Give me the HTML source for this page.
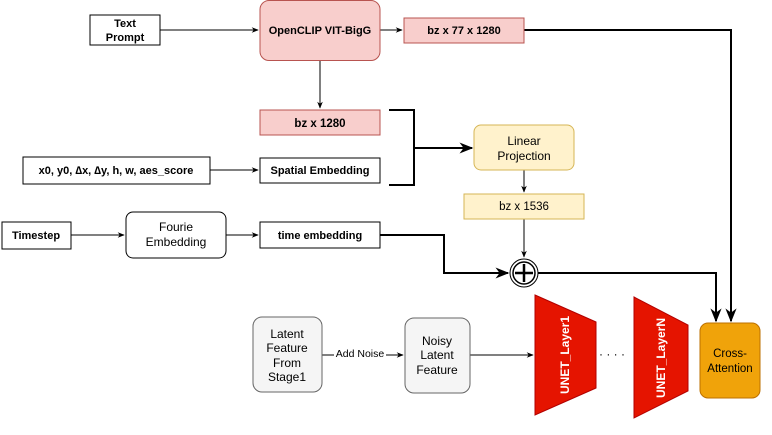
<!DOCTYPE html>
<html><head><meta charset="utf-8"><style>
body{margin:0;background:#fff}
svg text{font-family:"Liberation Sans",Arial,sans-serif;fill:#000}
.b{font-weight:bold}
</style></head><body>
<svg width="772" height="430" viewBox="0 0 772 430" xmlns="http://www.w3.org/2000/svg">
<defs>
<marker id="a" viewBox="0 0 10 10" refX="9" refY="5" markerWidth="7" markerHeight="7" orient="auto"><path d="M0,1 L10,5 L0,9 L3,5z" fill="#000"/></marker>
</defs>
<g stroke="#000" fill="none">
<line x1="160" y1="30" x2="258" y2="30" marker-end="url(#a)"/>
<line x1="380" y1="30" x2="402" y2="30" marker-end="url(#a)"/>
<line x1="320" y1="60" x2="320" y2="108" marker-end="url(#a)"/>
<line x1="210" y1="170" x2="258" y2="170" marker-end="url(#a)"/>
<path d="M389,110 H414 V185 H389" stroke-width="2"/>
<line x1="414" y1="148" x2="472" y2="148" stroke-width="2" marker-end="url(#a)"/>
<line x1="524" y1="170" x2="524" y2="192" marker-end="url(#a)"/>
<line x1="524" y1="219" x2="524" y2="257" marker-end="url(#a)"/>
<line x1="71" y1="235" x2="124" y2="235" marker-end="url(#a)"/>
<line x1="226" y1="235" x2="258" y2="235" marker-end="url(#a)"/>
<path d="M380,235 H444 V273 H508" stroke-width="2" marker-end="url(#a)"/>
<path d="M538,273 H716 V321" stroke-width="2" marker-end="url(#a)"/>
<path d="M524,30 H731 V321" stroke-width="2" marker-end="url(#a)"/>
<line x1="322" y1="355" x2="403" y2="355" marker-end="url(#a)"/>
<line x1="470" y1="355" x2="533" y2="355" marker-end="url(#a)"/>
</g>
<rect x="90" y="15" width="70" height="30" fill="#fff" stroke="#000"/>
<text class="b" x="125" y="27" font-size="11" text-anchor="middle">Text</text>
<text class="b" x="125" y="41" font-size="11" text-anchor="middle">Prompt</text>
<rect x="260" y="0.5" width="120" height="60" rx="9" fill="#f8cecc" stroke="#b85450"/>
<text class="b" x="320" y="34" font-size="11" text-anchor="middle">OpenCLIP VIT-BigG</text>
<rect x="404" y="18" width="120" height="25" fill="#f8cecc" stroke="#b85450"/>
<text class="b" x="464" y="34" font-size="11" text-anchor="middle">bz x 77 x 1280</text>
<rect x="260" y="110" width="120" height="25" fill="#f8cecc" stroke="#b85450"/>
<text class="b" x="320" y="127" font-size="11.5" text-anchor="middle">bz  x 1280</text>
<rect x="23" y="157" width="187" height="27" fill="#fff" stroke="#000"/>
<text class="b" x="116" y="174" font-size="11" text-anchor="middle">x0, y0, ∆x, ∆y, h, w, aes_score</text>
<rect x="260" y="158" width="120" height="25" fill="#fff" stroke="#000"/>
<text class="b" x="320" y="174" font-size="11" text-anchor="middle">Spatial Embedding</text>
<rect x="474" y="125" width="100" height="45" rx="7" fill="#fff2cc" stroke="#d6b656"/>
<text x="524" y="145" font-size="12" text-anchor="middle">Linear</text>
<text x="524" y="160" font-size="12" text-anchor="middle">Projection</text>
<rect x="464" y="194" width="120" height="25" fill="#fff2cc" stroke="#d6b656"/>
<text x="524" y="210" font-size="11.5" text-anchor="middle">bz x 1536</text>
<circle cx="524" cy="273" r="14" fill="#fff" stroke="#000"/>
<circle cx="524" cy="273" r="11" fill="#fff" stroke="#000" stroke-width="1.5"/>
<path d="M524,264 V282 M515,273 H533" stroke="#000" stroke-width="2.5"/>
<rect x="2" y="222" width="69" height="27" fill="#fff" stroke="#000"/>
<text class="b" x="36" y="239" font-size="11" text-anchor="middle">Timestep</text>
<rect x="126" y="212" width="100" height="46" rx="7" fill="#fff" stroke="#000"/>
<text x="176" y="231" font-size="12" text-anchor="middle">Fourie</text>
<text x="176" y="246" font-size="12" text-anchor="middle">Embedding</text>
<rect x="260" y="222" width="120" height="26" fill="#fff" stroke="#000"/>
<text class="b" x="320" y="239" font-size="11" text-anchor="middle">time embedding</text>
<rect x="253" y="317" width="69" height="75" rx="9" fill="#f5f5f5" stroke="#666"/>
<text font-size="12" text-anchor="middle" fill="#333"><tspan x="287" y="338">Latent</tspan><tspan x="287" y="352">Feature</tspan><tspan x="287" y="367">From</tspan><tspan x="287" y="381">Stage1</tspan></text>
<rect x="334" y="346" width="52" height="14" fill="#fff"/>
<text x="360" y="357" font-size="10.5" text-anchor="middle">Add Noise</text>
<rect x="405" y="318" width="65" height="75" rx="9" fill="#f5f5f5" stroke="#666"/>
<text font-size="12" text-anchor="middle" fill="#333"><tspan x="437" y="345">Noisy</tspan><tspan x="437" y="359">Latent</tspan><tspan x="437" y="374">Feature</tspan></text>
<path d="M535,295 L596,322 L596,388 L535,415z" fill="#e51400" stroke="#b20000"/>
<text transform="translate(569,355) rotate(-90)" font-size="12" font-weight="bold" text-anchor="middle" style="fill:#fff">UNET_Layer1</text>
<path d="M634,297 L688,325 L688,391 L634,418z" fill="#e51400" stroke="#b20000"/>
<text transform="translate(665,358) rotate(-90)" font-size="12" font-weight="bold" text-anchor="middle" style="fill:#fff">UNET_LayerN</text>
<text x="612" y="358" font-size="12" text-anchor="middle">· · · ·</text>
<rect x="700" y="323" width="60" height="75" rx="8" fill="#f0a30a" stroke="#bd7000"/>
<text x="730" y="357" font-size="11.5" text-anchor="middle">Cross-</text>
<text x="730" y="372" font-size="11.5" text-anchor="middle">Attention</text>
</svg>
</body></html>
